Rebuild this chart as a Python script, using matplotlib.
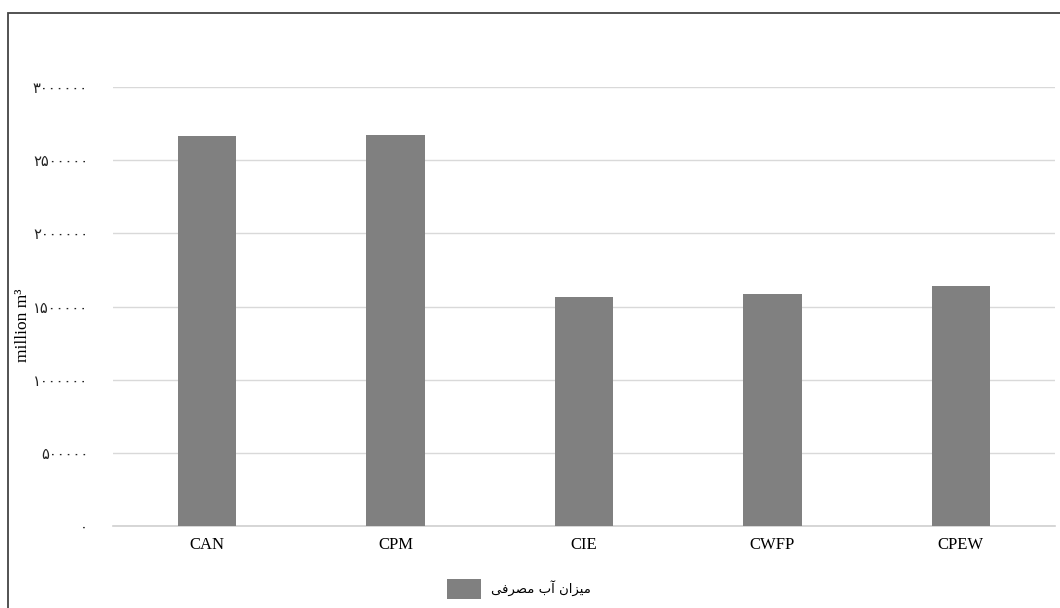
import matplotlib
matplotlib.use("Agg")
import matplotlib.pyplot as plt
from matplotlib.patches import Rectangle, Patch
from matplotlib.ticker import FixedLocator, FixedFormatter

# ---- data ----
categories = ["CAN", "CPM", "CIE", "CWFP", "CPEW"]
values = [2669000, 2673000, 1568000, 1583000, 1640000]
y_ticks = [0, 500000, 1000000, 1500000, 2000000, 2500000, 3000000]
y_tick_labels = ["\u06f0", "\u06f5\u06f0\u06f0\u06f0\u06f0\u06f0",
                 "\u06f1\u06f0\u06f0\u06f0\u06f0\u06f0\u06f0",
                 "\u06f1\u06f5\u06f0\u06f0\u06f0\u06f0\u06f0",
                 "\u06f2\u06f0\u06f0\u06f0\u06f0\u06f0\u06f0",
                 "\u06f2\u06f5\u06f0\u06f0\u06f0\u06f0\u06f0",
                 "\u06f3\u06f0\u06f0\u06f0\u06f0\u06f0\u06f0"]
y_label = "million m\u00b3"
# "میزان آب مصرفی" shaped with Arabic presentation forms, in visual order
series_label = "\uFEF0\uFED3\uFEAE\uFEBC\uFEE3 \uFE8F\uFE81 \uFEE5\uFE8D\uFEB0\uFEF4\uFEE3"

W, H = 1060, 608
fig = plt.figure(figsize=(W / 100, H / 100), dpi=100)
fig.patch.set_facecolor("white")

# outer frame (extends beyond the right/bottom edge as in the reference)
fig.patches.append(Rectangle((8 / W, -0.05), 1.1, 1 - 13 / H + 0.05,
                             transform=fig.transFigure, fill=False,
                             edgecolor="#444444", linewidth=1.3))

ax = fig.add_axes([113 / W, 1 - 525.7 / H, (1055 - 113) / W, (525.7 - 87.3) / H])
x = range(len(categories))
ax.bar(x, values, width=0.31, color="#808080", zorder=3)
ax.set_xlim(-0.5, len(categories) - 0.5)
ax.set_ylim(0, 3000000)

ax.yaxis.set_major_locator(FixedLocator(y_ticks))
ax.yaxis.set_major_formatter(FixedFormatter(y_tick_labels))
ax.set_xticks(list(x))
ax.set_xticklabels(categories, family="Liberation Serif", fontsize=12)
for t in ax.get_yticklabels():
    t.set_family(["DejaVu Sans"])
    t.set_fontsize(10.5)
    t.set_color("#222222")
ax.tick_params(axis="y", length=0, pad=18)
ax.tick_params(axis="x", length=0, pad=8)
ax.grid(axis="y", color="#d9d9d9", linewidth=1.0, zorder=0)
ax.axhline(0, color="#d0d0d0", linewidth=1.2, zorder=2, clip_on=False)
for s in ["top", "right", "left", "bottom"]:
    ax.spines[s].set_visible(False)

fig.text(23 / W, 1 - 325 / H, y_label, rotation=90, ha="center", va="center",
         family="Liberation Serif", fontsize=12.5)

handle = Patch(facecolor="#808080", edgecolor="none")
fig.legend([handle], [series_label], loc="center",
           bbox_to_anchor=(519 / W, 1 - 589 / H), frameon=False,
           prop={"family": "DejaVu Sans", "size": 9.5},
           handlelength=2.6, handleheight=1.9, handletextpad=0.8)

fig.savefig("out.png", dpi=100)
